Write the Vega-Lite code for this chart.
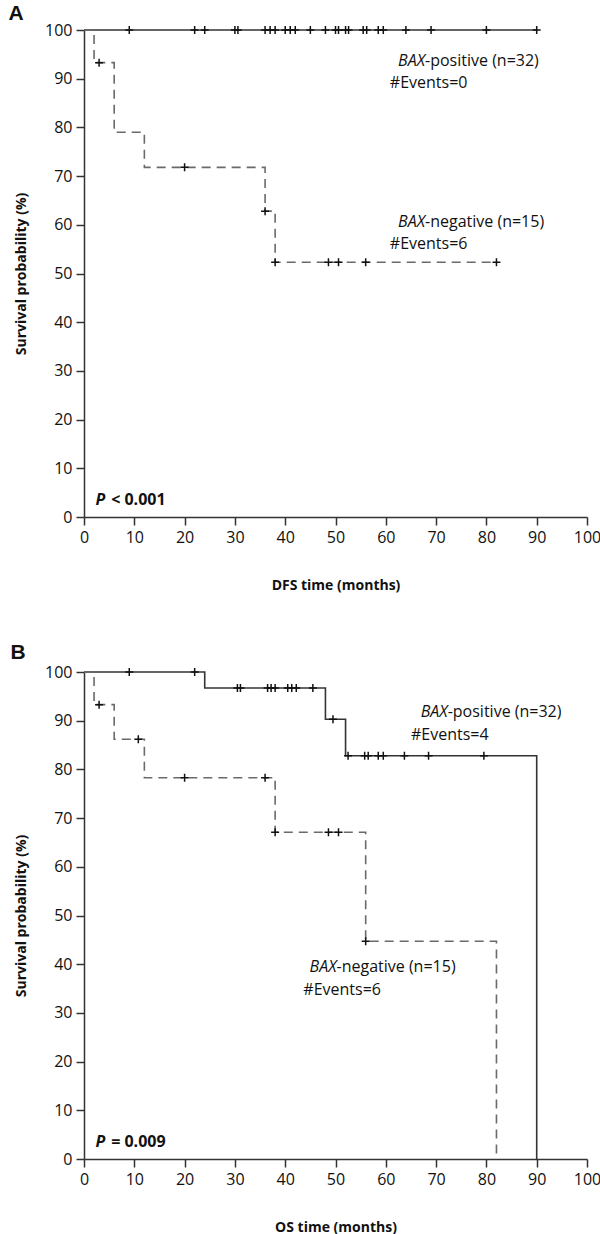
{
  "$schema": "https://vega.github.io/schema/vega-lite/v6.json",
  "background": "white",
  "padding": {"left": 8, "top": 3, "right": 4, "bottom": 4},
  "spacing": 50,
  "config": {
    "view": {"stroke": null},
    "axis": {
      "grid": false,
      "domainColor": "#333333",
      "domainWidth": 1.5,
      "tickColor": "#333333",
      "tickWidth": 1.5,
      "tickSize": 8,
      "labelFont": "Open Sans",
      "labelFontSize": 16,
      "labelColor": "#111111",
      "labelPadding": 4,
      "labelFlush": false,
      "titleFont": "Open Sans",
      "titleFontSize": 14,
      "titleFontWeight": "bold",
      "titleColor": "#111111"
    },
    "title": {"font": "Liberation Sans", "fontSize": 21, "fontWeight": "bold", "anchor": "start", "frame": "bounds", "color": "#111111"},
    "text": {"font": "Open Sans", "fontSize": 16, "color": "#111111", "baseline": "alphabetic"}
  },
  "datasets": {
    "curveA": [
      {"group": "pos", "time": 0, "surv": 100},
      {"group": "pos", "time": 90, "surv": 100},
      {"group": "neg", "time": 0, "surv": 100},
      {"group": "neg", "time": 2, "surv": 93.3},
      {"group": "neg", "time": 6, "surv": 79.0},
      {"group": "neg", "time": 12, "surv": 71.8},
      {"group": "neg", "time": 36, "surv": 62.8},
      {"group": "neg", "time": 38, "surv": 52.3},
      {"group": "neg", "time": 82, "surv": 52.3}
    ],
    "censA": [
      {"group": "pos", "time": 9, "surv": 100},
      {"group": "pos", "time": 22, "surv": 100},
      {"group": "pos", "time": 24, "surv": 100},
      {"group": "pos", "time": 30, "surv": 100},
      {"group": "pos", "time": 30.6, "surv": 100},
      {"group": "pos", "time": 36, "surv": 100},
      {"group": "pos", "time": 37, "surv": 100},
      {"group": "pos", "time": 38, "surv": 100},
      {"group": "pos", "time": 40, "surv": 100},
      {"group": "pos", "time": 41, "surv": 100},
      {"group": "pos", "time": 42, "surv": 100},
      {"group": "pos", "time": 45, "surv": 100},
      {"group": "pos", "time": 48, "surv": 100},
      {"group": "pos", "time": 50, "surv": 100},
      {"group": "pos", "time": 50.6, "surv": 100},
      {"group": "pos", "time": 52, "surv": 100},
      {"group": "pos", "time": 52.6, "surv": 100},
      {"group": "pos", "time": 55.5, "surv": 100},
      {"group": "pos", "time": 56.2, "surv": 100},
      {"group": "pos", "time": 58.5, "surv": 100},
      {"group": "pos", "time": 59.5, "surv": 100},
      {"group": "pos", "time": 64, "surv": 100},
      {"group": "pos", "time": 69, "surv": 100},
      {"group": "pos", "time": 80, "surv": 100},
      {"group": "pos", "time": 90, "surv": 100},
      {"group": "neg", "time": 3, "surv": 93.3},
      {"group": "neg", "time": 20, "surv": 71.8},
      {"group": "neg", "time": 36, "surv": 62.8},
      {"group": "neg", "time": 38, "surv": 52.3},
      {"group": "neg", "time": 48.6, "surv": 52.3},
      {"group": "neg", "time": 50.6, "surv": 52.3},
      {"group": "neg", "time": 56, "surv": 52.3},
      {"group": "neg", "time": 82, "surv": 52.3}
    ],
    "curveB": [
      {"group": "pos", "time": 0, "surv": 100},
      {"group": "pos", "time": 24, "surv": 96.7},
      {"group": "pos", "time": 48, "surv": 90.3},
      {"group": "pos", "time": 52, "surv": 82.8},
      {"group": "pos", "time": 90, "surv": 0},
      {"group": "neg", "time": 0, "surv": 100},
      {"group": "neg", "time": 2, "surv": 93.3},
      {"group": "neg", "time": 6, "surv": 86.2},
      {"group": "neg", "time": 12, "surv": 78.3},
      {"group": "neg", "time": 38, "surv": 67.1},
      {"group": "neg", "time": 56, "surv": 44.7},
      {"group": "neg", "time": 82, "surv": 0}
    ],
    "censB": [
      {"group": "pos", "time": 9, "surv": 100},
      {"group": "pos", "time": 22, "surv": 100},
      {"group": "pos", "time": 30.5, "surv": 96.7},
      {"group": "pos", "time": 31.1, "surv": 96.7},
      {"group": "pos", "time": 36.5, "surv": 96.7},
      {"group": "pos", "time": 37.2, "surv": 96.7},
      {"group": "pos", "time": 38, "surv": 96.7},
      {"group": "pos", "time": 40.5, "surv": 96.7},
      {"group": "pos", "time": 41.3, "surv": 96.7},
      {"group": "pos", "time": 42.2, "surv": 96.7},
      {"group": "pos", "time": 45.5, "surv": 96.7},
      {"group": "pos", "time": 49.5, "surv": 90.3},
      {"group": "pos", "time": 52.5, "surv": 82.8},
      {"group": "pos", "time": 55.8, "surv": 82.8},
      {"group": "pos", "time": 56.5, "surv": 82.8},
      {"group": "pos", "time": 58.5, "surv": 82.8},
      {"group": "pos", "time": 59.5, "surv": 82.8},
      {"group": "pos", "time": 63.7, "surv": 82.8},
      {"group": "pos", "time": 68.5, "surv": 82.8},
      {"group": "pos", "time": 79.5, "surv": 82.8},
      {"group": "neg", "time": 3, "surv": 93.3},
      {"group": "neg", "time": 10.8, "surv": 86.2},
      {"group": "neg", "time": 20, "surv": 78.3},
      {"group": "neg", "time": 36, "surv": 78.3},
      {"group": "neg", "time": 38, "surv": 67.1},
      {"group": "neg", "time": 48.6, "surv": 67.1},
      {"group": "neg", "time": 50.6, "surv": 67.1},
      {"group": "neg", "time": 56, "surv": 44.7}
    ],
    "one": [{}]
  },
  "vconcat": [
    {
      "title": {"text": "A", "dx": -6, "offset": -2},
      "width": 503,
      "height": 487,
      "layer": [
        {
          "data": {"name": "curveA"},
          "mark": {"type": "line", "interpolate": "step-after", "strokeWidth": 1.6},
          "encoding": {
            "x": {"field": "time", "type": "quantitative", "scale": {"domain": [0, 100], "nice": false}, "axis": {"values": [0,10,20,30,40,50,60,70,80,90,100], "title": "DFS time (months)", "titlePadding": 33}},
            "y": {"field": "surv", "type": "quantitative", "scale": {"domain": [0, 100], "nice": false}, "axis": {"values": [0,10,20,30,40,50,60,70,80,90,100], "title": "Survival probability (%)", "titlePadding": 16}},
            "detail": {"field": "group"},
            "color": {"field": "group", "type": "nominal", "scale": {"domain": ["pos", "neg"], "range": ["#333333", "#6a6a6a"]}, "legend": null},
            "strokeDash": {"field": "group", "type": "nominal", "scale": {"domain": ["pos", "neg"], "range": [[1, 0], [9, 6]]}, "legend": null}
          }
        },
        {
          "data": {"name": "censA"},
          "mark": {"type": "point", "shape": "M-1,0L1,0M0,-1L0,1", "filled": false, "size": 64, "strokeWidth": 1.5, "color": "#111111", "opacity": 1},
          "encoding": {
            "x": {"field": "time", "type": "quantitative"},
            "y": {"field": "surv", "type": "quantitative"}
          }
        },
        {"data": {"name": "one"}, "mark": {"type": "text", "text": "BAX", "fontStyle": "italic", "align": "right"}, "encoding": {"x": {"datum": 67.8}, "y": {"datum": 92.6}}},
        {"data": {"name": "one"}, "mark": {"type": "text", "text": "-positive (n=32)", "align": "left"}, "encoding": {"x": {"datum": 67.8}, "y": {"datum": 92.6}}},
        {"data": {"name": "one"}, "mark": {"type": "text", "text": "#Events=0", "align": "left"}, "encoding": {"x": {"datum": 60.8}, "y": {"datum": 88.0}}},
        {"data": {"name": "one"}, "mark": {"type": "text", "text": "BAX", "fontStyle": "italic", "align": "right"}, "encoding": {"x": {"datum": 67.8}, "y": {"datum": 59.6}}},
        {"data": {"name": "one"}, "mark": {"type": "text", "text": "-negative (n=15)", "align": "left"}, "encoding": {"x": {"datum": 67.8}, "y": {"datum": 59.6}}},
        {"data": {"name": "one"}, "mark": {"type": "text", "text": "#Events=6", "align": "left"}, "encoding": {"x": {"datum": 60.8}, "y": {"datum": 55.0}}},
        {"data": {"name": "one"}, "mark": {"type": "text", "text": "P", "fontStyle": "italic", "fontWeight": "bold", "align": "left"}, "encoding": {"x": {"datum": 2.3}, "y": {"datum": 2.5}}},
        {"data": {"name": "one"}, "mark": {"type": "text", "text": "< 0.001", "fontWeight": "bold", "align": "left"}, "encoding": {"x": {"datum": 5.4}, "y": {"datum": 2.5}}}
      ]
    },
    {
      "title": {"text": "B", "dx": -4, "offset": 1},
      "width": 503,
      "height": 487,
      "layer": [
        {
          "data": {"name": "curveB"},
          "mark": {"type": "line", "interpolate": "step-after", "strokeWidth": 1.6},
          "encoding": {
            "x": {"field": "time", "type": "quantitative", "scale": {"domain": [0, 100], "nice": false}, "axis": {"values": [0,10,20,30,40,50,60,70,80,90,100], "title": "OS time (months)", "titlePadding": 33}},
            "y": {"field": "surv", "type": "quantitative", "scale": {"domain": [0, 100], "nice": false}, "axis": {"values": [0,10,20,30,40,50,60,70,80,90,100], "title": "Survival probability (%)", "titlePadding": 16}},
            "detail": {"field": "group"},
            "color": {"field": "group", "type": "nominal", "scale": {"domain": ["pos", "neg"], "range": ["#333333", "#6a6a6a"]}, "legend": null},
            "strokeDash": {"field": "group", "type": "nominal", "scale": {"domain": ["pos", "neg"], "range": [[1, 0], [9, 6]]}, "legend": null}
          }
        },
        {
          "data": {"name": "censB"},
          "mark": {"type": "point", "shape": "M-1,0L1,0M0,-1L0,1", "filled": false, "size": 64, "strokeWidth": 1.5, "color": "#111111", "opacity": 1},
          "encoding": {
            "x": {"field": "time", "type": "quantitative"},
            "y": {"field": "surv", "type": "quantitative"}
          }
        },
        {"data": {"name": "one"}, "mark": {"type": "text", "text": "BAX", "fontStyle": "italic", "align": "right"}, "encoding": {"x": {"datum": 72.3}, "y": {"datum": 90.7}}},
        {"data": {"name": "one"}, "mark": {"type": "text", "text": "-positive (n=32)", "align": "left"}, "encoding": {"x": {"datum": 72.3}, "y": {"datum": 90.7}}},
        {"data": {"name": "one"}, "mark": {"type": "text", "text": "#Events=4", "align": "left"}, "encoding": {"x": {"datum": 65.0}, "y": {"datum": 86.0}}},
        {"data": {"name": "one"}, "mark": {"type": "text", "text": "BAX", "fontStyle": "italic", "align": "right"}, "encoding": {"x": {"datum": 50.2}, "y": {"datum": 38.3}}},
        {"data": {"name": "one"}, "mark": {"type": "text", "text": "-negative (n=15)", "align": "left"}, "encoding": {"x": {"datum": 50.2}, "y": {"datum": 38.3}}},
        {"data": {"name": "one"}, "mark": {"type": "text", "text": "#Events=6", "align": "left"}, "encoding": {"x": {"datum": 43.6}, "y": {"datum": 33.6}}},
        {"data": {"name": "one"}, "mark": {"type": "text", "text": "P", "fontStyle": "italic", "fontWeight": "bold", "align": "left"}, "encoding": {"x": {"datum": 2.3}, "y": {"datum": 2.5}}},
        {"data": {"name": "one"}, "mark": {"type": "text", "text": "= 0.009", "fontWeight": "bold", "align": "left"}, "encoding": {"x": {"datum": 5.4}, "y": {"datum": 2.5}}}
      ]
    }
  ]
}
